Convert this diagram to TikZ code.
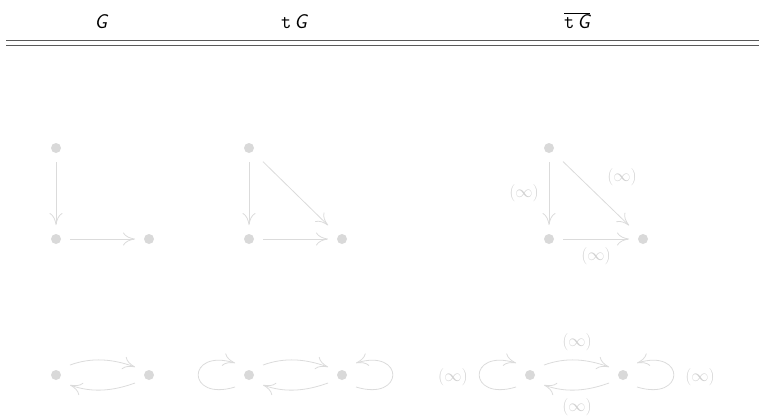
\documentclass[tikz,border=0pt]{standalone}
\usetikzlibrary{arrows.meta,calc}
\definecolor{dotc}{gray}{0.85}
\definecolor{edgec}{gray}{0.86}
\definecolor{labc}{gray}{0.82}
\definecolor{rulec}{gray}{0.35}
\tikzset{
  v/.style={minimum size=28pt, inner sep=0pt, outer sep=0pt,
    path picture={\fill[dotc] (path picture bounding box.center) circle (5pt);}},
  e/.style={draw=edgec, line width=0.8pt, -{Computer Modern Rightarrow[length=12pt,width=13pt]}},
  lab/.style={text=labc, font=\fontsize{19}{22}\selectfont, inner sep=0pt},
  hd/.style={font=\fontsize{20}{24}\selectfont\sffamily, inner sep=0pt},
  rl/.style={draw=rulec, line width=1.2pt}
}
\begin{document}
\begin{tikzpicture}[x=1pt,y=1pt]
\useasboundingbox (0,0) rectangle (759,-416);
% header
\node[hd, anchor=base] (h1) at (101,-28.7) {\itshape G};
\node[hd, anchor=base] (h2) at (294,-28.7) {{\ttfamily t}\kern3pt\itshape G};
\node[hd, anchor=base] (h3) at (577,-28.7) {$\overline{\hbox{\ttfamily t\kern3pt\sffamily\itshape G}}$};
\coordinate (r1a) at (6,-40.7); \coordinate (r1b) at (759,-40.7);
\coordinate (r2a) at (6,-45.3); \coordinate (r2b) at (759,-45.3);
\draw[rl] (r1a) -- (r1b);
\draw[rl] (r2a) -- (r2b);
% row 1, column 1
\node[v] (a1) at (56,-148) {};
\node[v] (b1) at (56,-239) {};
\node[v] (c1) at (149,-239) {};
\draw[e] (a1) -- (b1);
\draw[e] (b1) -- (c1);
% row 1, column 2
\node[v] (a2) at (249,-148) {};
\node[v] (b2) at (249,-239) {};
\node[v] (c2) at (342,-239) {};
\draw[e] (a2) -- (b2);
\draw[e] (b2) -- (c2);
\draw[e] (a2) -- (c2);
% row 1, column 3
\node[v] (a3) at (549,-148) {};
\node[v] (b3) at (549,-239) {};
\node[v] (c3) at (643,-239) {};
\draw[e] (a3) -- (b3);
\draw[e] (b3) -- (c3);
\draw[e] (a3) -- (c3);
\node[lab] (l1) at (524,-193) {$(\infty)$};
\node[lab] (l2) at (622,-177) {$(\infty)$};
\node[lab] (l3) at (596,-256) {$(\infty)$};
% row 2, column 1
\node[v] (p1) at (56,-375) {};
\node[v] (q1) at (149,-375) {};
\draw[e] ($(p1)+(14,10)$) .. controls +(22,8) and +(-22,8) .. ($(q1)+(-14,8)$);
\draw[e] ($(q1)+(-14,-8)$) .. controls +(-22,-8) and +(22,-8) .. ($(p1)+(14,-10)$);
% row 2, column 2
\node[v] (p2) at (249,-375) {};
\node[v] (q2) at (342,-375) {};
\draw[e] ($(p2)+(14,10)$) .. controls +(22,8) and +(-22,8) .. ($(q2)+(-14,8)$);
\draw[e] ($(q2)+(-14,-8)$) .. controls +(-22,-8) and +(22,-8) .. ($(p2)+(14,-10)$);
\draw[e] ($(p2)+(-14,-12)$) .. controls +(-49,-15) and +(-49,15) .. ($(p2)+(-14,12)$);
\draw[e] ($(q2)+(14,-12)$) .. controls +(49,-15) and +(49,15) .. ($(q2)+(14,12)$);
% row 2, column 3
\node[v] (p3) at (530,-375) {};
\node[v] (q3) at (623,-375) {};
\draw[e] ($(p3)+(14,10)$) .. controls +(22,8) and +(-22,8) .. ($(q3)+(-14,8)$);
\draw[e] ($(q3)+(-14,-8)$) .. controls +(-22,-8) and +(22,-8) .. ($(p3)+(14,-10)$);
\draw[e] ($(p3)+(-14,-12)$) .. controls +(-49,-15) and +(-49,15) .. ($(p3)+(-14,12)$);
\draw[e] ($(q3)+(14,-12)$) .. controls +(49,-15) and +(49,15) .. ($(q3)+(14,12)$);
\node[lab] (m1) at (453,-377) {$(\infty)$};
\node[lab] (m2) at (700,-377) {$(\infty)$};
\node[lab] (m3) at (577,-342) {$(\infty)$};
\node[lab] (m4) at (577,-407) {$(\infty)$};
\end{tikzpicture}
\end{document}
